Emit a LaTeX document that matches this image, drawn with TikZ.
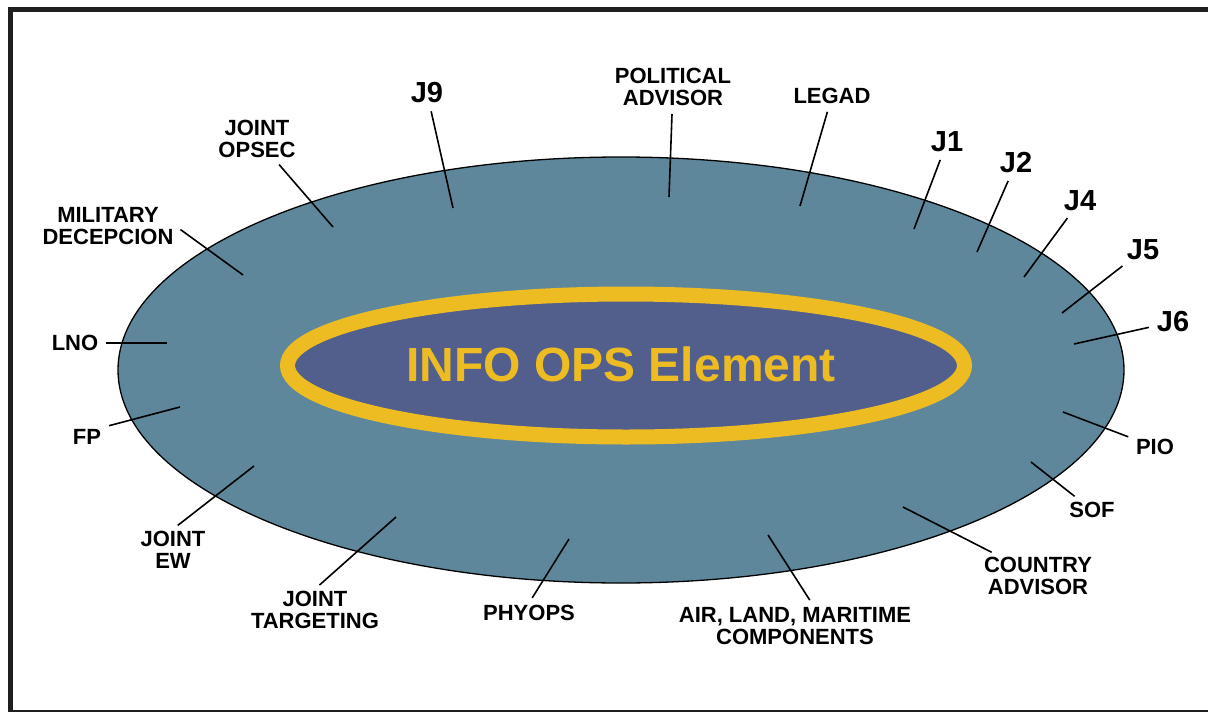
\documentclass[tikz,border=0pt]{standalone}
\usepackage{fontspec}
\setmainfont{Liberation Sans}

\definecolor{outerteal}{RGB}{94,135,155}
\definecolor{innerblue}{RGB}{82,95,140}
\definecolor{opsgold}{RGB}{237,187,34}

\tikzset{
  lbl/.style={font=\bfseries\fontsize{22}{22}\selectfont, align=center, inner sep=2pt},
  jlbl/.style={font=\bfseries\fontsize{29}{30}\selectfont, inner sep=2pt},
  leader/.style={line width=1.6pt, shorten <=6pt}
}

\begin{document}
\begin{tikzpicture}[x=1pt,y=-1pt]
\useasboundingbox (0,0) rectangle (1208,712);
% frame
\draw[line width=5pt, black!88] (10,9) rectangle (1216,712);

% ellipses
\draw[fill=outerteal, line width=1.3pt] (621,370) ellipse [x radius=503, y radius=213];
\draw[fill=innerblue, draw=opsgold, line width=15pt] (626,365.5) ellipse [x radius=338.5, y radius=71.5];
\node[font=\bfseries\fontsize{48}{50}\selectfont, text=opsgold] (info) at (621,364) {INFO OPS Element};

% staff sections J1..J9
\foreach \j/\lx/\ly/\tx/\ty in {9/427/93/453/208, 1/947/142/914/229, 2/1016/163/977/252,
    4/1080/201/1024/277, 5/1143/250/1062/313, 6/1173/322/1074/344}
{
  \node[jlbl] (J\j) at (\lx,\ly) {J\j};
  \coordinate (tJ\j) at (\tx,\ty);
  \draw[leader] (J\j) -- (tJ\j);
}

% other cells round the ellipse
\node[lbl] (polad) at (673,87) {POLITICAL\\ADVISOR};
\node[lbl] (legad) at (832,96) {LEGAD};
\node[lbl] (opsec) at (257,139) {JOINT\\OPSEC};
\node[lbl] (decep) at (108,226) {MILITARY\\DECEPCION};
\node[lbl] (lno) at (75,343) {LNO};
\node[lbl] (fp) at (87,437) {FP};
\node[lbl] (ew) at (173,550) {JOINT\\EW};
\node[lbl] (targ) at (315,610) {JOINT\\TARGETING};
\node[lbl] (phyops) at (529,613) {PHYOPS};
\node[lbl] (comp) at (795,626) {AIR, LAND, MARITIME\\COMPONENTS};
\node[lbl] (country) at (1038,576) {COUNTRY\\ADVISOR};
\node[lbl] (sof) at (1092,510) {SOF};
\node[lbl] (pio) at (1155,447) {PIO};

\coordinate (tPolad) at (669,197);
\coordinate (tLegad) at (800,206);
\coordinate (tOpsec) at (333,227);
\coordinate (tDecep) at (243,275);
\coordinate (tLno) at (167,343);
\coordinate (tFp) at (180,407);
\coordinate (tEw) at (254,466);
\coordinate (tTarg) at (396,517);
\coordinate (tPhyops) at (569,539);
\coordinate (tComp) at (768,535);
\coordinate (tCountry) at (903,507);
\coordinate (tSof) at (1031,462);
\coordinate (tPio) at (1063,412);

\draw[leader] (polad) -- (tPolad);
\draw[leader] (legad) -- (tLegad);
\draw[leader] (opsec) -- (tOpsec);
\draw[leader] (decep.east) -- (tDecep);
\draw[leader] (lno.east) -- (tLno);
\draw[leader] (fp.north east) -- (tFp);
\draw[leader] (ew.north) -- (tEw);
\draw[leader] (targ.north) -- (tTarg);
\draw[leader] (phyops.north) -- (tPhyops);
\draw[leader] ([xshift=18pt]comp.north) -- (tComp);
\draw[leader] (country) -- (tCountry);
\draw[leader] (sof) -- (tSof);
\draw[leader] (pio) -- (tPio);
\end{tikzpicture}
\end{document}
